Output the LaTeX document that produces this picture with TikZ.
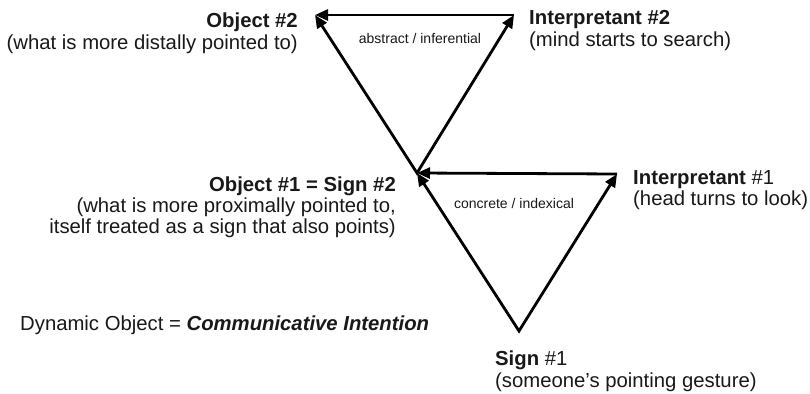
\documentclass[tikz,border=0pt]{standalone}
\usepackage{fontspec}
\setmainfont{Liberation Sans}
\usetikzlibrary{arrows.meta}
\begin{document}
\begin{tikzpicture}[x=1pt,y=-1pt,
  edge/.style={line width=2.8pt, line join=miter, {Triangle[length=13pt,width=11pt]}-{Triangle[length=13pt,width=11pt]}},
  single/.style={line width=2.8pt, -{Triangle[length=13pt,width=11pt]}},
  big/.style={font=\fontsize{20.3}{21.2}\selectfont, inner sep=0pt, text=black!90},
  small/.style={font=\fontsize{14}{16}\selectfont, inner sep=0pt, text=black!90}]
\useasboundingbox[fill=white] (0,0) rectangle (810,393);
% vertices
\coordinate (O2) at (315,15);
\coordinate (I2) at (514,15);
\coordinate (O1) at (417,173);
\coordinate (I1) at (617,174);
\coordinate (S1) at (519,331);
% upper triangle
\draw[single] (I2) -- (O2);
\draw[edge] (O2) -- (O1) -- (I2);
% lower triangle
\draw[single] (I1) -- (O1);
\draw[edge] (O1) -- (S1) -- (I1);
% labels
\node[big, anchor=north east, align=right] (o2) at (298,13) {\textbf{Object \#2}\\(what is more distally pointed to)};
\node[big, anchor=north west, align=left] (i2) at (529,10.5) {\textbf{Interpretant \#2}\\(mind starts to search)};
\node[big, anchor=north east, align=right] (o1) at (396,176.5) {\textbf{Object \#1 = Sign \#2}\\(what is more proximally pointed to,\\itself treated as a sign that also points)};
\node[big, anchor=north west, align=left] (i1) at (633,170) {\textbf{Interpretant} \#1\\(head turns to look)};
\node[big, anchor=north west, align=left] (s1) at (495,351) {\textbf{Sign} \#1\\(someone’s pointing gesture)};
\node[big, anchor=base west] (dyn) at (20,330) {Dynamic Object = \textbf{\textit{Communicative Intention}}};
\node[small, anchor=base] (abs) at (420,44) {abstract / inferential};
\node[small, anchor=base] (con) at (514,208) {concrete / indexical};
\end{tikzpicture}
\end{document}
